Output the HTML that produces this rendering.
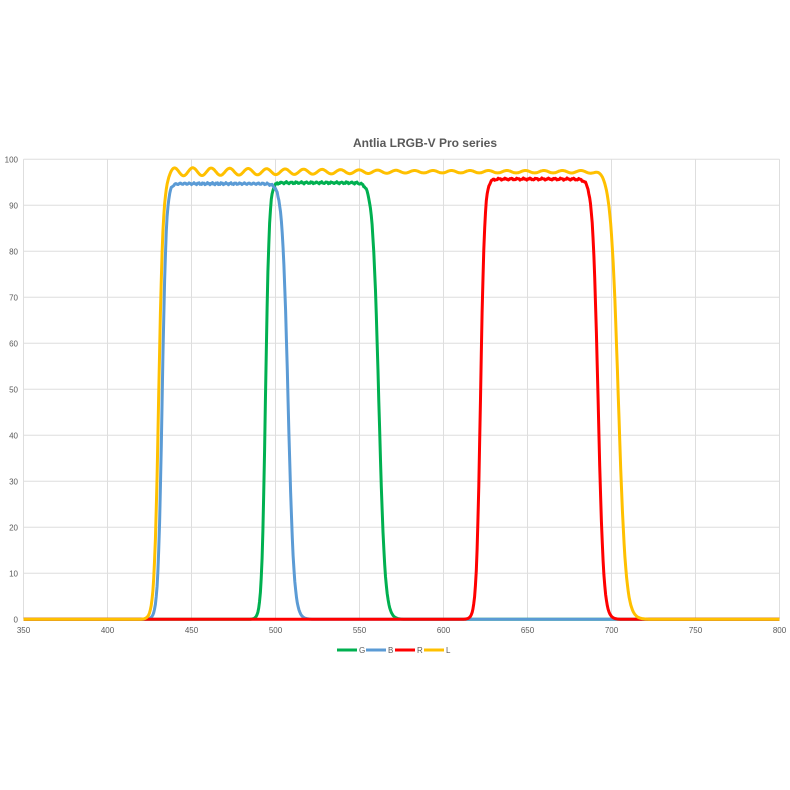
<!DOCTYPE html>
<html><head><meta charset="utf-8"><style>
body{margin:0;background:#fff;}
svg{display:block;font-family:"Liberation Sans",sans-serif;}
</style></head><body>
<svg id="s" width="790" height="790" xmlns="http://www.w3.org/2000/svg">
<rect width="790" height="790" fill="#fff"/>
<text x="425" y="147" text-anchor="middle" font-size="12" font-weight="bold" fill="#595959">Antlia LRGB-V Pro series</text>
<g id="grid" stroke="#dedede" stroke-width="1"></g>
<g id="lab" font-size="8" fill="#595959"></g>
<g id="curves" fill="none" stroke-width="3" stroke-linejoin="round"></g>
<g font-size="8" fill="#595959">
<line x1="337" y1="650" x2="357" y2="650" stroke="#00b050" stroke-width="3"/><text x="359" y="653">G</text>
<line x1="366" y1="650" x2="386" y2="650" stroke="#5b9bd5" stroke-width="3"/><text x="388" y="653">B</text>
<line x1="395" y1="650" x2="415" y2="650" stroke="#ff0000" stroke-width="3"/><text x="417" y="653">R</text>
<line x1="424" y1="650" x2="444" y2="650" stroke="#ffc000" stroke-width="3"/><text x="446" y="653">L</text>
</g>
</svg>
<script>
var X=function(n){return 23.5+(n-350)*1.68;},Y=function(v){return 619.3-v*4.6;};
var g=document.getElementById('grid'),l=document.getElementById('lab'),ns='http://www.w3.org/2000/svg';
function el(p,t,a,txt){var e=document.createElementNS(ns,t);for(var k in a)e.setAttribute(k,a[k]);if(txt)e.textContent=txt;p.appendChild(e);}
for(var v=0;v<=100;v+=10){el(g,'line',{x1:X(350),x2:X(800),y1:Y(v),y2:Y(v)});el(l,'text',{x:18,y:Y(v)+3,'text-anchor':'end'},String(v));}
for(var n=350;n<=800;n+=50){el(g,'line',{x1:X(n),x2:X(n),y1:Y(100),y2:Y(0)});el(l,'text',{x:X(n),y:633,'text-anchor':'middle'},String(n));}
function band(x,a,w1,b,w2,P){return P/(1+Math.exp(-(x-a)/w1))/(1+Math.exp((x-b)/w2));}
function nz(x,k){return 0.15*Math.sin(x*k)+0.1*Math.sin(x*k*2.7+1);}
var defs=[
['#00b050',function(x){return band(x,494,1.1,561.5,1.8,94.9+nz(x,2.1));}],
['#5b9bd5',function(x){return band(x,432.5,1.2,507.5,1.7,94.7+nz(x,2.3));}],
['#ff0000',function(x){return band(x,622,1.2,692,1.6,95.7+nz(x,1.7));}],
['#ffc000',function(x){var p=97.3+0.9*Math.sin((x-437)/11*2*Math.PI)*Math.max(0.3,1-(x-440)/200);return band(x,430.5,1.3,704,2.2,p);}]
];
var c=document.getElementById('curves');
defs.forEach(function(d){var s='';for(var x=350;x<=800;x+=0.5){s+=(x==350?'M':'L')+X(x).toFixed(1)+' '+Y(d[1](x)).toFixed(1);}el(c,'path',{d:s,stroke:d[0]});});
</script>
</body></html>
